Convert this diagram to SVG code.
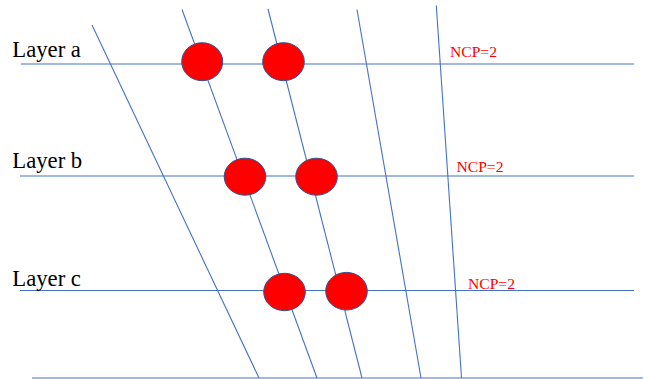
<svg xmlns="http://www.w3.org/2000/svg" width="648" height="379" viewBox="0 0 648 379">
<style>
.ln{stroke:#4472C4;stroke-width:1.1;fill:none}
.node{fill:#FF0000;stroke:#2F528F;stroke-width:1}
.lbl{font-family:"Liberation Serif","Times New Roman",serif;font-size:22.7px;fill:#000}
.ncp{font-family:"Liberation Serif","Times New Roman",serif;font-size:15.6px;fill:#FF0000}
</style>
<rect width="648" height="379" fill="#fff"/>
<g id="connectors">
<line class="ln" x1="21" y1="64" x2="634" y2="64"/>
<line class="ln" x1="20" y1="176" x2="634" y2="176"/>
<line class="ln" x1="20" y1="290.5" x2="634" y2="290.5"/>
<line class="ln" x1="32" y1="378" x2="643" y2="378"/>
<line class="ln" x1="92" y1="25" x2="259" y2="378"/>
<line class="ln" x1="182" y1="9.5" x2="317" y2="378"/>
<line class="ln" x1="268" y1="9" x2="362" y2="378"/>
<line class="ln" x1="357" y1="9.5" x2="421" y2="378"/>
<line class="ln" x1="436.3" y1="5.5" x2="461.5" y2="378"/>
</g>
<g id="layer-a">
<text class="lbl" x="12.3" y="57.3">Layer a</text>
<text class="ncp" x="450" y="56.7">NCP=2</text>
</g>
<g id="layer-b">
<text class="lbl" x="12.3" y="168.3">Layer b</text>
<text class="ncp" x="456.5" y="171.7">NCP=2</text>
</g>
<g id="layer-c">
<text class="lbl" x="12.3" y="286">Layer c</text>
<text class="ncp" x="468" y="289.3">NCP=2</text>
</g>
<g id="node-a1"><ellipse class="node" cx="202.2" cy="61.7" rx="20.5" ry="19"/></g>
<g id="node-a2"><ellipse class="node" cx="283.5" cy="61.7" rx="20.8" ry="19"/></g>
<g id="node-b1"><ellipse class="node" cx="245" cy="176.7" rx="20.8" ry="18.5"/></g>
<g id="node-b2"><ellipse class="node" cx="316.5" cy="176.7" rx="20.8" ry="18.5"/></g>
<g id="node-c1"><ellipse class="node" cx="284.5" cy="292" rx="20.8" ry="18.7"/></g>
<g id="node-c2"><ellipse class="node" cx="346.5" cy="291.2" rx="20.8" ry="18.8"/></g>
</svg>
